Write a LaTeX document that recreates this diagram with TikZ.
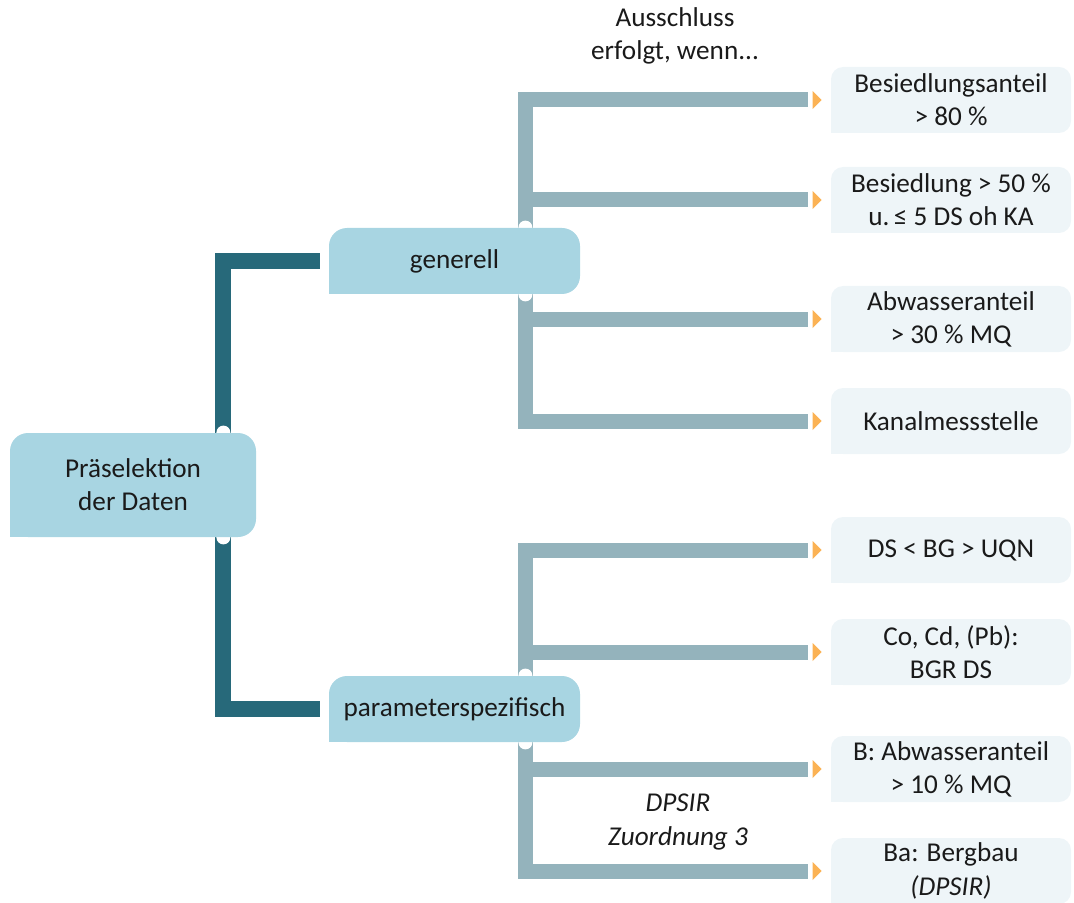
\documentclass[tikz,border=0pt]{standalone}
\usepackage{fontspec}
\setmainfont{Carlito}
\usepackage{xcolor}
\usetikzlibrary{positioning,calc,backgrounds}
\definecolor{boxblue}{HTML}{A8D5E2}
\definecolor{leafblue}{HTML}{EEF5F8}
\definecolor{trunkteal}{HTML}{27697A}
\definecolor{branchgrey}{HTML}{94B3BC}
\definecolor{tiporange}{HTML}{FBB254}
\definecolor{ink}{HTML}{1A1A1A}
\tikzset{
    mainbox/.style={fill=boxblue, rounded corners=9pt, align=center, text=ink, inner sep=0pt},
    leafbox/.style={fill=leafblue, rounded corners=6pt, align=center, text=ink, inner sep=0pt,
        minimum width=120pt, minimum height=33pt},
    trunk/.style={draw=trunkteal, line width=8pt},
    branch/.style={draw=branchgrey, line width=7.5pt},
    notch/.style={fill=white},
    tip/.style={fill=tiporange},
    note/.style={align=center, text=ink}
}

\begin{document}
\begin{tikzpicture}[x=0.5pt, y=-0.5pt, font=\fontsize{13.6}{16.6}\selectfont]
    \useasboundingbox (0,0) rectangle (1074,903);
    \node[mainbox, minimum width=123pt, minimum height=52pt] (root) at (133,485) {Präselektion\\der Daten};
    \node[mainbox, minimum width=125.5pt, minimum height=33pt] (gen) at (454.5,261) {generell};
    \node[mainbox, minimum width=125.5pt, minimum height=33pt] (par) at (454.5,709) {parameterspezifisch};
    \node[leafbox] (l1) at (951,100) {Besiedlungsanteil\\> 80 \%};
    \node[leafbox] (l2) at (951,200) {Besiedlung > 50 \%\\u.\,≤ 5 DS oh KA};
    \node[leafbox] (l3) at (951,319) {Abwasseranteil\\> 30 \% MQ};
    \node[leafbox] (l4) at (951,421) {Kanalmessstelle};
    \node[leafbox] (l5) at (951,550) {DS < BG > UQN};
    \node[leafbox] (l6) at (951,652) {Co, Cd, (Pb):\\BGR DS};
    \node[leafbox] (l7) at (951,769) {B: Abwasseranteil\\> 10 \% MQ};
    \node[leafbox] (l8) at (951,871) {Ba: Bergbau\\\textit{(DPSIR)}};
    \node[note] (head) at (675,36) {Ausschluss\\erfolgt, wenn...};
    \node[note, font=\fontsize{13.6}{16.6}\selectfont\itshape] (dpsir) at (678,822) {DPSIR\\Zuordnung 3};
    \coordinate (gx) at ([xshift=-27.5pt]gen.south east);
    \coordinate (px) at ([xshift=-27.5pt]par.south east);
    \coordinate (rx) at ([xshift=-16.5pt]root.south east);
    \foreach \n in {root,gen,par} \fill[boxblue] (\n.south west) rectangle ++(10pt,10pt);
    \foreach \i in {1,...,8} {
        \fill[leafblue] (l\i.south west) rectangle ++(7pt,7pt);
        \fill[tip] ([xshift=-9pt,yshift=4.5pt]l\i.west) -- ([xshift=-4.5pt]l\i.west)
            -- ([xshift=-9pt,yshift=-4.5pt]l\i.west) -- cycle;
    }
    \begin{scope}[on background layer]
        \draw[trunk] ([xshift=-4.5pt]gen.west) -| (rx |- root.north);
        \draw[trunk] ([xshift=-4.5pt]par.west) -| (rx |- root.south);
        \draw[branch] ([xshift=-11.5pt]l1.west) -| (gx |- l4.west) -- ([xshift=-11.5pt]l4.west);
        \draw[branch] ([xshift=-11.5pt]l5.west) -| (px |- l8.west) -- ([xshift=-11.5pt]l8.west);
        \foreach \i in {2,3} \draw[branch] (gx |- l\i.west) -- ([xshift=-11.5pt]l\i.west);
        \foreach \i in {6,7} \draw[branch] (px |- l\i.west) -- ([xshift=-11.5pt]l\i.west);
        \fill[notch] (rx |- root.north) circle (3.5pt) (rx |- root.south) circle (3.5pt);
        \fill[notch] (gx |- gen.north) circle (3.5pt) (gx) circle (3.5pt);
        \fill[notch] (px |- par.north) circle (3.5pt) (px) circle (3.5pt);
    \end{scope}
\end{tikzpicture}
\end{document}
